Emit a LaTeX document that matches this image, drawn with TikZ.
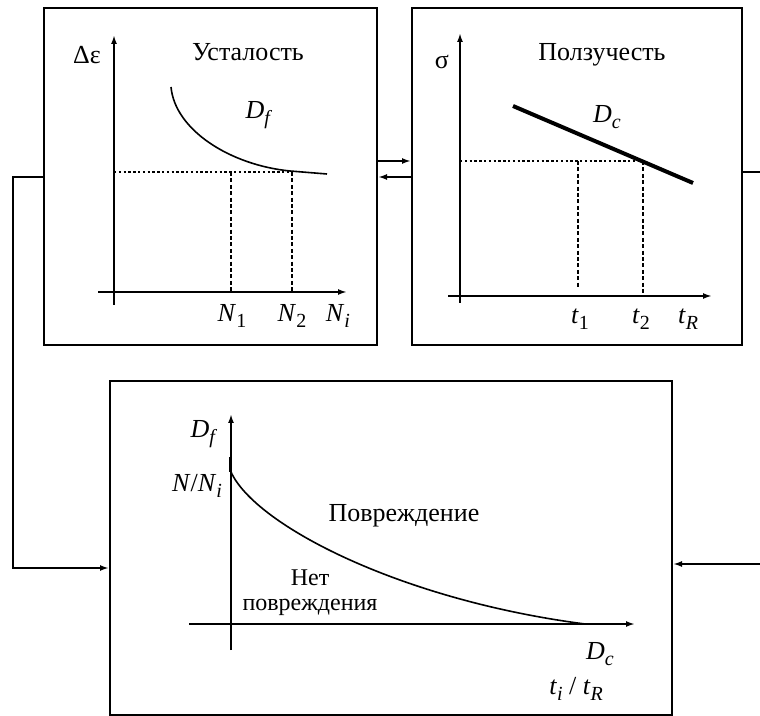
\documentclass[tikz,border=0pt]{standalone}
\usepackage{fontspec}
\setmainfont{Liberation Serif}
\usetikzlibrary{arrows.meta,calc}
\newcommand\lsub[1]{\raisebox{-0.45ex}{\fontsize{10}{10}\selectfont #1}}
\begin{document}
\begin{tikzpicture}[x=0.5pt,y=-0.5pt,
 box/.style={draw,line width=1pt,inner sep=0pt},
 ax/.style={line width=1pt,-{Latex[length=4.5pt,width=3pt]}},
 arr/.style={line width=0.9pt,-{Latex[length=4.5pt,width=3pt]}},
 curve/.style={line width=0.8pt},
 dots/.style={line width=0.8pt,dash pattern=on 1.2pt off 1.2pt},
 dashes/.style={line width=0.8pt,dash pattern=on 2pt off 1.2pt},
 title/.style={font=\fontsize{13}{15}\selectfont,inner sep=0pt},
 small/.style={font=\fontsize{12}{14}\selectfont,inner sep=0pt},
 lab/.style={font=\fontsize{13}{15}\selectfont,inner sep=0pt}]
\useasboundingbox (0,0) rectangle (760,716);
% boxes
\node[box,minimum width=166.5pt,minimum height=168.5pt] (fat) at (210.5,176.5) {};
\node[box,minimum width=165pt,minimum height=168.5pt] (creep) at (577,176.5) {};
\node[box,minimum width=281pt,minimum height=167pt] (dmg) at (391,548) {};
% connectors
\draw[arr] (fat.east |- 0,161) -- (creep.west |- 0,161);
\draw[arr] (creep.west |- 0,177) -- (fat.east |- 0,177);
\coordinate (l1) at (13,177);
\coordinate (l2) at (13,568);
\draw[arr] (fat.west |- 0,177) -- (l1) -- (l2) -- (dmg.west |- 0,568);
\coordinate (r1) at (765,172);
\coordinate (r2) at (765,564);
\draw[arr] (creep.east |- 0,172) -- (r1) -- (r2) -- (dmg.east |- 0,564);
% fatigue plot
\draw[ax] (114,305) -- (114,35);
\draw[ax] (98,292) -- (347,292);
\draw[curve] (171,87) .. controls (175,130) and (230,165) .. (290,171) -- (327,174);
\draw[dots] (114,172) -- (290,172);
\draw[dashes] (231,172) -- (231,292);
\draw[dashes] (292,172) -- (292,292);
\node[lab] (de) at (87,55) {Δε};
\node[title] (tf) at (248,52) {Усталость};
\node[lab] (df) at (259,115) {\textit{D}\lsub{\textit{f}}};
\node[lab] (n1) at (232,316) {\textit{N}\lsub{1}};
\node[lab] (n2) at (292,316) {\textit{N}\lsub{2}};
\node[lab] (ni) at (338,316) {\textit{N}\lsub{\textit{i}}};
% creep plot
\draw[ax] (460,303) -- (460,33);
\draw[ax] (448,296) -- (712,296);
\draw[line width=2pt] (513,106) -- (693,183);
\draw[dots] (460,161) -- (643,161);
\draw[dashes] (578,161) -- (578,288);
\draw[dashes] (643,161) -- (643,296);
\node[lab] (sg) at (442,62) {σ};
\node[title] (tc) at (602,55) {Ползучесть};
\node[lab] (dc) at (607,117) {\textit{D}\lsub{\textit{c}}};
\node[lab] (t1) at (580,319) {\textit{t}\lsub{1}};
\node[lab] (t2) at (641,319) {\textit{t}\lsub{2}};
\node[lab] (tr) at (688,319) {\textit{t}\lsub{\textit{R}}};
% damage plot
\draw[ax] (231,650) -- (231,414);
\draw[ax] (189,624) -- (635,624);
\draw[line width=1.4pt] (230.5,457) -- (230.5,472);
\draw[curve] (231,472) .. controls (255,525) and (400,600) .. (585,624);
\node[lab] (df2) at (204,434) {\textit{D}\lsub{\textit{f}}};
\node[lab] (nn) at (197,486) {\textit{N}/\textit{N}\lsub{\textit{i}}};
\node[title] (td) at (404,516) {Повреждение};
\node[small] (no1) at (310,578) {Нет};
\node[small] (no2) at (310,607) {повреждения};
\node[lab] (dc2) at (600,654) {\textit{D}\lsub{\textit{c}}};
\node[lab] (tt) at (576,689) {\textit{t}\lsub{\textit{i}} / \textit{t}\lsub{\textit{R}}};
\end{tikzpicture}
\end{document}
